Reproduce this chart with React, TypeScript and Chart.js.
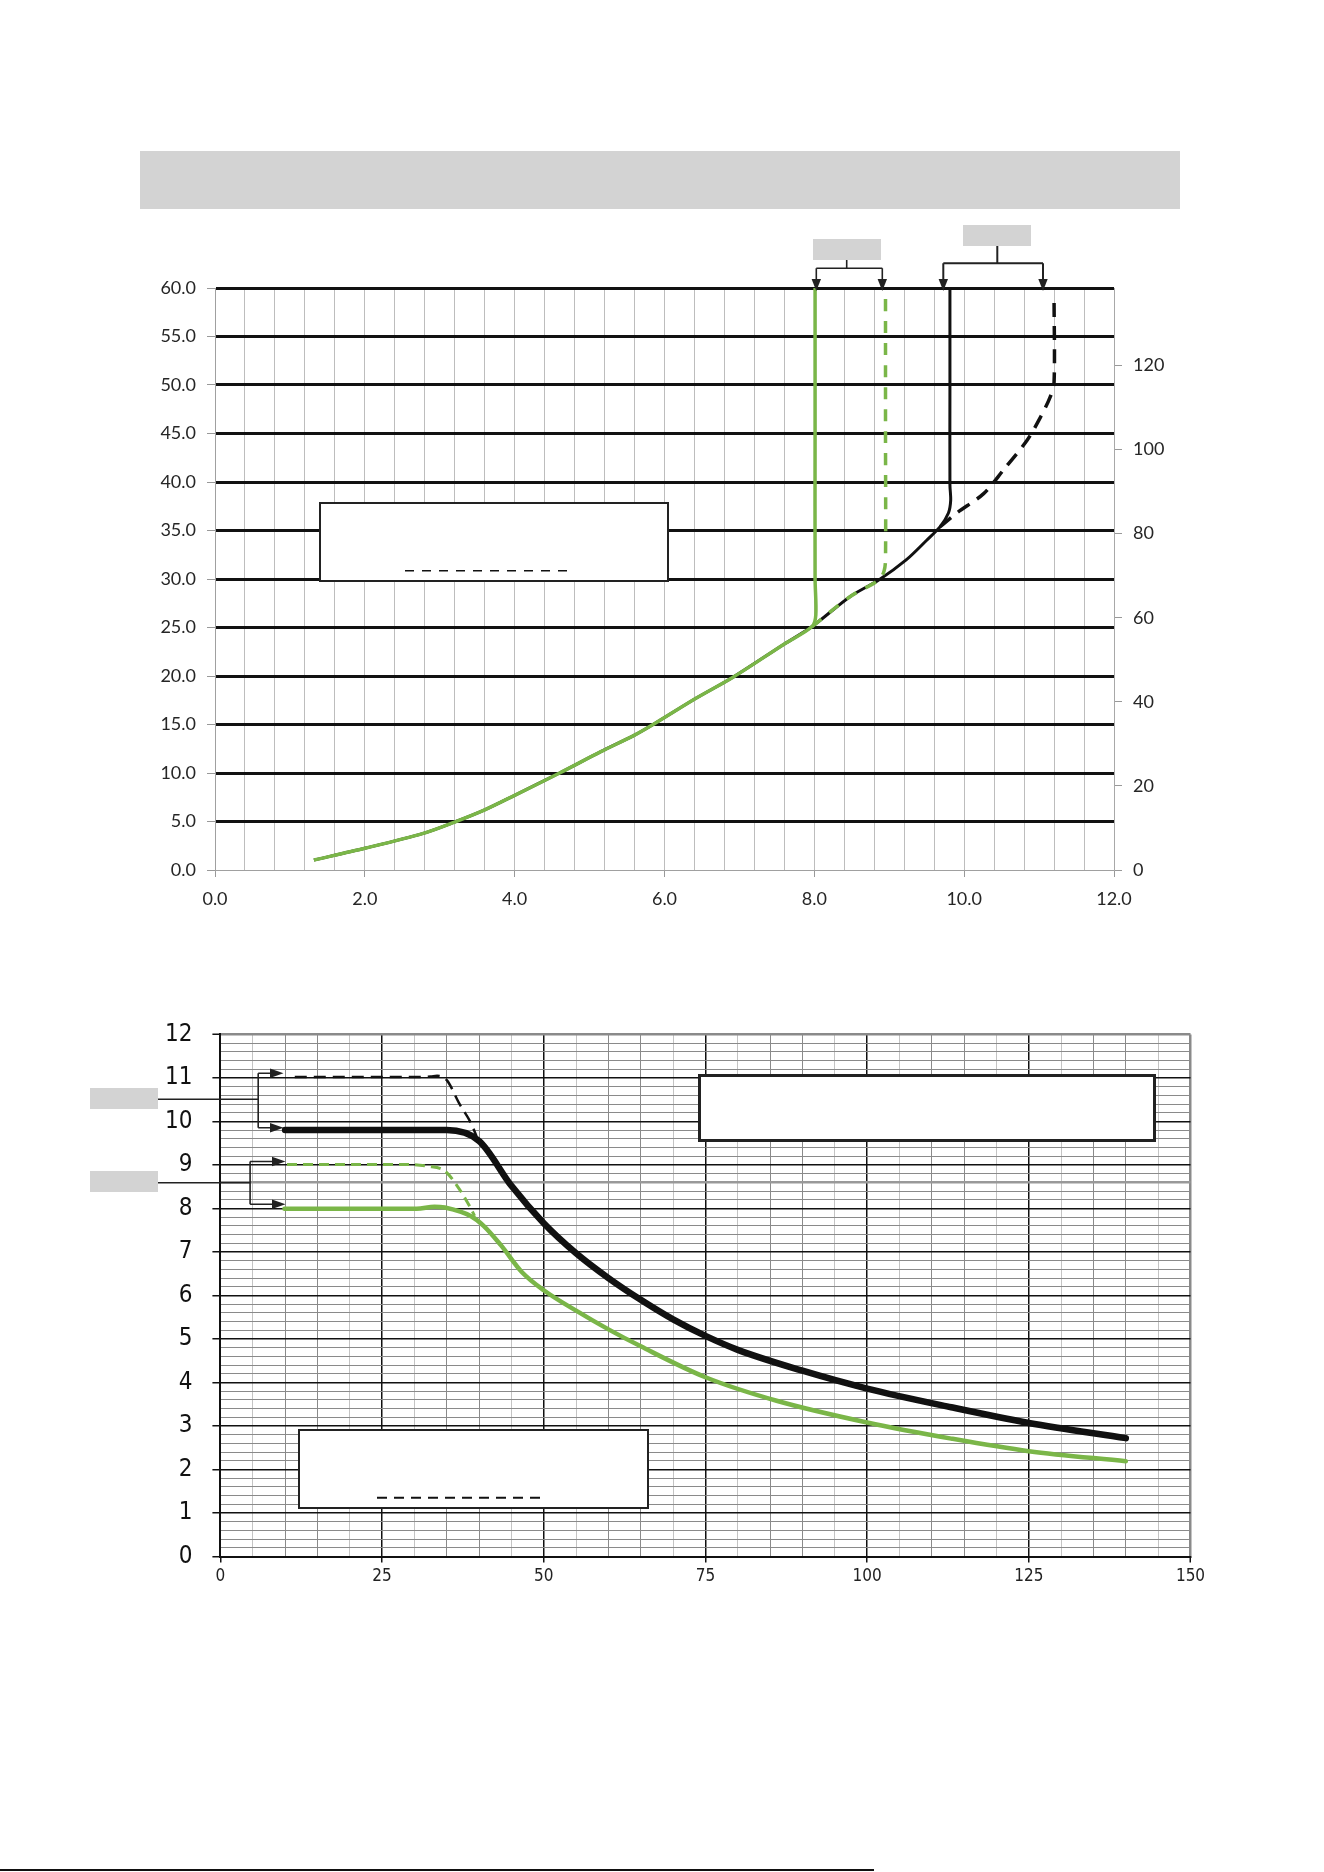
import React, { useEffect, useRef } from "react";
import { Chart, registerables } from "chart.js";

Chart.register(...registerables);

// ---------------- Top chart: pressure (left, psi) / head (right, ft) vs flow ----------------
const TOP_X_MIN = 0;
const TOP_X_MAX = 12;
const TOP_X_GRID_STEP = 0.4;
const TOP_X_LABEL_STEP = 2;
const TOP_Y_MIN = 0;
const TOP_Y_MAX = 60;
const TOP_Y_STEP = 5;
const TOP_Y2_MAX = 138.4; // 60 psi expressed in ft of water
const TOP_Y2_STEP = 20;

const TOP_GREEN_SOLID_X = [1.32, 2.0, 2.78, 3.19, 3.6, 4.0, 4.6, 5.15, 5.6, 5.87, 6.42, 6.92, 7.6, 7.97, 8.02, 8.01, 8.01, 8.01];
const TOP_GREEN_SOLID_Y = [1.03, 2.24, 3.78, 4.92, 6.2, 7.7, 10.0, 12.2, 13.9, 15.1, 17.7, 19.9, 23.3, 25.1, 26.3, 30, 45, 60];

const TOP_GREEN_DASH_X = [7.97, 8.48, 8.86, 8.93, 8.95, 8.95, 8.95];
const TOP_GREEN_DASH_Y = [25.1, 28.2, 29.9, 30.8, 32.0, 45, 59.6];

const TOP_BLACK_SOLID_X = [1.32, 2.0, 2.78, 3.19, 3.6, 4.0, 4.6, 5.15, 5.6, 5.87, 6.42, 6.92, 7.6, 7.97, 8.48, 8.86, 9.23, 9.5, 9.68, 9.79, 9.82, 9.81, 9.81, 9.81];
const TOP_BLACK_SOLID_Y = [1.03, 2.24, 3.78, 4.92, 6.2, 7.7, 10.0, 12.2, 13.9, 15.1, 17.7, 19.9, 23.3, 25.1, 28.2, 29.9, 32.0, 34.0, 35.4, 36.8, 38.1, 39.7, 50, 60];

const TOP_BLACK_DASH_X = [9.68, 9.9, 10.26, 10.52, 10.84, 11.02, 11.15, 11.2, 11.2];
const TOP_BLACK_DASH_Y = [35.4, 36.8, 38.8, 41.2, 44.3, 46.7, 48.8, 50.3, 58.8];

// ---------------- Bottom chart ----------------
const BOT_X_MIN = 0;
const BOT_X_MAX = 150;
const BOT_X_GRID_STEP = 5;
const BOT_X_LABEL_STEP = 25;
const BOT_Y_MIN = 0;
const BOT_Y_MAX = 12;
const BOT_Y_GRID_STEP = 0.2;
const BOT_Y_LABEL_STEP = 1;

const BOT_BLACK_SOLID_X = [10, 35, 40, 45, 50, 55, 60, 65, 70, 75, 80, 90, 100, 113, 125, 140];
const BOT_BLACK_SOLID_Y = [9.8, 9.8, 9.55, 8.52, 7.66, 6.97, 6.4, 5.9, 5.45, 5.07, 4.75, 4.27, 3.86, 3.43, 3.07, 2.72];

const BOT_BLACK_DASH_X = [11.5, 20, 30, 32.5, 33.5, 35, 36.9, 38.75, 39.6];
const BOT_BLACK_DASH_Y = [11.02, 11.02, 11.02, 11.03, 11.05, 10.95, 10.42, 9.96, 9.66];

const BOT_GREEN_SOLID_X = [9.9, 20, 30.35, 33.1, 34.7, 38.75, 40.7, 43.4, 46.6, 50, 55, 60, 65, 75, 86, 100, 113, 125, 140];
const BOT_GREEN_SOLID_Y = [7.99, 7.99, 7.99, 8.04, 8.02, 7.82, 7.6, 7.15, 6.54, 6.12, 5.65, 5.22, 4.83, 4.12, 3.58, 3.08, 2.71, 2.42, 2.19];

const BOT_GREEN_DASH_X = [10.3, 20, 29.3, 32, 34.7, 36.6, 38.5, 39.3];
const BOT_GREEN_DASH_Y = [9.01, 9.01, 9.01, 8.97, 8.86, 8.52, 8.06, 7.83];

// ---------------- styles ----------------
const GREEN = "#7ab648";
const BLACK = "#111111";
const LABEL_GRAY = "#d3d3d3";
const NARROW = "'Liberation Sans Narrow', 'DejaVu Sans Condensed', 'Liberation Sans', Arial, sans-serif";

const xy = (xs: number[], ys: number[]) => xs.map((x, i) => ({ x, y: ys[i] }));
const isMult = (v: any, step: number) => {
  const n = Number(v) / step;
  return Math.abs(n - Math.round(n)) < 1e-6;
};
const near = (a: any, b: number) => Math.abs(Number(a) - b) < 1e-6;
const TRANSPARENT = "rgba(0,0,0,0)";

export default function App() {
  const topRef = useRef<HTMLCanvasElement | null>(null);
  const botRef = useRef<HTMLCanvasElement | null>(null);

  useEffect(() => {
    const line = { showLine: true, pointRadius: 0, fill: false };
    const top = new Chart(topRef.current as HTMLCanvasElement, {
      type: "scatter",
      data: {
        datasets: [
          { ...line, data: xy(TOP_GREEN_SOLID_X, TOP_GREEN_SOLID_Y), borderColor: GREEN, borderWidth: 3.5, tension: 0.3 },
          { ...line, data: xy(TOP_GREEN_DASH_X, TOP_GREEN_DASH_Y), borderColor: GREEN, borderWidth: 3.5, borderDash: [12, 10], tension: 0.3 },
          { ...line, data: xy(TOP_BLACK_DASH_X, TOP_BLACK_DASH_Y), borderColor: BLACK, borderWidth: 3.5, borderDash: [14, 9], tension: 0.3 },
          { ...line, data: xy(TOP_BLACK_SOLID_X, TOP_BLACK_SOLID_Y), borderColor: BLACK, borderWidth: 3, tension: 0.3 },
        ] as any,
      },
      options: {
        responsive: false,
        animation: false,
        devicePixelRatio: 1,
        events: [],
        layout: { padding: { left: 0, right: 0, top: 26, bottom: 0 } },
        plugins: { legend: { display: false }, tooltip: { enabled: false } },
        scales: {
          x: {
            type: "linear",
            position: "bottom",
            min: TOP_X_MIN,
            max: TOP_X_MAX,
            ticks: {
              stepSize: TOP_X_GRID_STEP,
              autoSkip: false,
              maxRotation: 0,
              padding: 11,
              color: "#262626",
              font: { family: "Lato", size: 18 },
              callback: (v: any) => (isMult(v, TOP_X_LABEL_STEP) ? Number(v).toFixed(1) : ""),
            },
            grid: {
              z: -1,
              color: "#bdbdbd",
              lineWidth: 1,
              tickLength: 7,
              tickColor: (c: any) => (c.tick && isMult(c.tick.value, TOP_X_LABEL_STEP) ? "#999" : TRANSPARENT),
            },
            border: { color: "#a0a0a0", width: 1 },
            afterFit: (s: any) => {
              s.height = 60;
            },
          },
          y: {
            type: "linear",
            position: "left",
            min: TOP_Y_MIN,
            max: TOP_Y_MAX,
            ticks: {
              stepSize: TOP_Y_STEP,
              autoSkip: false,
              padding: 11,
              color: "#262626",
              font: { family: "Lato", size: 18 },
              callback: (v: any) => Number(v).toFixed(1),
            },
            grid: {
              color: (c: any) => (c.tick && near(c.tick.value, 0) ? TRANSPARENT : BLACK),
              lineWidth: 3,
              tickLength: 8,
              tickColor: "#999",
              tickWidth: 1,
            },
            border: { color: "#a0a0a0", width: 1 },
            afterFit: (s: any) => {
              s.width = 115;
            },
          },
          y2: {
            type: "linear",
            position: "right",
            min: 0,
            max: TOP_Y2_MAX,
            ticks: {
              stepSize: TOP_Y2_STEP,
              includeBounds: false,
              autoSkip: false,
              padding: 11,
              color: "#262626",
              font: { family: "Lato", size: 18 },
            },
            grid: { drawOnChartArea: false, tickLength: 8, tickColor: "#999", tickWidth: 1 },
            border: { color: "#a8a8a8", width: 1 },
            afterFit: (s: any) => {
              s.width = 86;
            },
          },
        },
      } as any,
    });

    const bot = new Chart(botRef.current as HTMLCanvasElement, {
      type: "scatter",
      data: {
        datasets: [
          { ...line, data: xy(BOT_BLACK_SOLID_X, BOT_BLACK_SOLID_Y), borderColor: BLACK, borderWidth: 6.5, cubicInterpolationMode: "monotone", borderCapStyle: "round" },
          { ...line, data: xy(BOT_BLACK_DASH_X, BOT_BLACK_DASH_Y), borderColor: BLACK, borderWidth: 2.5, borderDash: [12, 7], cubicInterpolationMode: "monotone" },
          { ...line, data: xy(BOT_GREEN_SOLID_X, BOT_GREEN_SOLID_Y), borderColor: GREEN, borderWidth: 4.5, cubicInterpolationMode: "monotone", borderCapStyle: "round" },
          { ...line, data: xy(BOT_GREEN_DASH_X, BOT_GREEN_DASH_Y), borderColor: GREEN, borderWidth: 3, borderDash: [10, 6], cubicInterpolationMode: "monotone" },
        ] as any,
      },
      options: {
        responsive: false,
        animation: false,
        devicePixelRatio: 1,
        events: [],
        layout: { padding: { left: 0, right: 29.5, top: 30.7, bottom: 0 } },
        plugins: { legend: { display: false }, tooltip: { enabled: false } },
        scales: {
          x: {
            type: "linear",
            position: "bottom",
            min: BOT_X_MIN,
            max: BOT_X_MAX,
            ticks: {
              stepSize: BOT_X_GRID_STEP,
              autoSkip: false,
              maxRotation: 0,
              padding: 4,
              color: "#222",
              font: { family: NARROW, size: 17 },
              callback: (v: any) => (isMult(v, BOT_X_LABEL_STEP) ? String(Math.round(Number(v))) : ""),
            },
            grid: {
              z: -1,
              color: (c: any) => {
                const v = c.tick ? Number(c.tick.value) : 0;
                if (near(v, 0)) return TRANSPARENT;
                if (near(v, BOT_X_MAX)) return "#8a8a8a";
                if (isMult(v, BOT_X_LABEL_STEP)) return BLACK;
                const r = Math.round(v) % BOT_X_LABEL_STEP;
                return r === 5 || r === 20 ? "#c4c4c4" : "#8a8a8a";
              },
              lineWidth: (c: any) => {
                const v = c.tick ? Number(c.tick.value) : 0;
                if (near(v, BOT_X_MAX)) return 2.5;
                if (isMult(v, BOT_X_LABEL_STEP)) return 1.5;
                return 1;
              },
              tickLength: 6,
              tickColor: (c: any) => (c.tick && isMult(c.tick.value, BOT_X_LABEL_STEP) ? BLACK : TRANSPARENT),
              tickWidth: 1.5,
            },
            border: { color: BLACK, width: 2 },
            afterFit: (s: any) => {
              s.height = 53.5;
            },
          },
          y: {
            type: "linear",
            position: "left",
            min: BOT_Y_MIN,
            max: BOT_Y_MAX,
            ticks: {
              stepSize: BOT_Y_GRID_STEP,
              autoSkip: false,
              padding: 20,
              color: "#111",
              font: { family: NARROW, size: 24 },
              callback: (v: any) => (isMult(v, BOT_Y_LABEL_STEP) ? String(Math.round(Number(v))) : ""),
            },
            grid: {
              color: (c: any) => {
                const v = c.tick ? Number(c.tick.value) : 0;
                if (near(v, 0)) return TRANSPARENT;
                if (near(v, BOT_Y_MAX)) return "#8a8a8a";
                if (isMult(v, BOT_Y_LABEL_STEP)) return BLACK;
                if (near(v, 8.6)) return "#999";
                return "#8a8a8a";
              },
              lineWidth: (c: any) => {
                const v = c.tick ? Number(c.tick.value) : 0;
                if (near(v, BOT_Y_MAX)) return 2.5;
                if (near(v, 8.6)) return 2.5;
                if (isMult(v, BOT_Y_LABEL_STEP)) return 1.5;
                return 1;
              },
              tickLength: 8,
              tickColor: (c: any) => (c.tick && isMult(c.tick.value, BOT_Y_LABEL_STEP) ? BLACK : TRANSPARENT),
              tickWidth: 1.5,
            },
            border: { color: BLACK, width: 2 },
            afterFit: (s: any) => {
              s.width = 120.4;
            },
          },
        },
      } as any,
    });

    return () => {
      top.destroy();
      bot.destroy();
    };
  }, []);

  const box = (l: number, t: number, w: number, h: number, bw: number) => ({
    position: "absolute" as const,
    left: l,
    top: t,
    width: w,
    height: h,
    boxSizing: "border-box" as const,
    background: "#fff",
    border: `${bw}px solid #222`,
  });
  const gray = (l: number, t: number, w: number, h: number) => ({
    position: "absolute" as const,
    left: l,
    top: t,
    width: w,
    height: h,
    background: LABEL_GRAY,
  });

  return (
    <div
      style={{
        position: "absolute",
        left: 0,
        top: 0,
        width: 1324,
        height: 1872,
        overflow: "hidden",
        background: "#fff",
      }}
    >
      {/* header band */}
      <div style={gray(140, 151, 1040, 58)} />

      <canvas ref={topRef} width={1100} height={668} style={{ position: "absolute", left: 100, top: 262, width: 1100, height: 668 }} />
      <canvas ref={botRef} width={1120} height={610} style={{ position: "absolute", left: 100, top: 1000, width: 1120, height: 610 }} />

      {/* top chart labels / boxes */}
      <div style={gray(813, 239, 68, 21)} />
      <div style={gray(963, 225, 68, 21)} />
      <div style={box(319, 502, 350, 80, 2)} />

      {/* bottom chart labels / boxes */}
      <div style={gray(90, 1088, 68, 21)} />
      <div style={gray(90, 1171, 68, 21)} />
      <div style={box(698, 1074, 458, 68, 3)} />
      <div style={box(298, 1429, 351, 80, 2.5)} />

      <svg width={1324} height={1872} style={{ position: "absolute", left: 0, top: 0, pointerEvents: "none" }}>
        <g stroke="#222" strokeWidth={1.6} fill="none">
          {/* top chart brackets */}
          <path d="M846.7 260 V268.3 M816.3 268.3 H882.3 M816.3 268.3 V281 M882.3 268.3 V281" />
          <path d="M997.3 246 V263.3 M943.3 263.3 H1043 M943.3 263.3 V281 M1043 263.3 V281" strokeWidth={2} />
          {/* bottom chart callouts */}
          <path d="M158 1099.3 H258.2 M258.2 1073.3 V1127.7 M258.2 1073.3 H271 M258.2 1127.7 H271" />
          <path d="M158 1182.7 H250.1 M250.1 1161.5 V1204.3 M250.1 1161.5 H273 M250.1 1204.3 H273" />
        </g>
        <g fill="#222">
          <polygon points="811.6,279 821,279 816.3,291" />
          <polygon points="877.6,279 887,279 882.3,291" />
          <polygon points="938.6,279 948,279 943.3,291" />
          <polygon points="1038.3,279 1047.7,279 1043,291" />
          <polygon points="270,1068.6 270,1078 283.5,1073.3" />
          <polygon points="270,1123 270,1132.4 283.5,1127.7" />
          <polygon points="272,1156.8 272,1166.2 285.5,1161.5" />
          <polygon points="272,1199.6 272,1209 285.5,1204.3" />
        </g>
        {/* dashed sample lines inside the legend boxes */}
        <line x1={405} y1={570.7} x2={575} y2={570.7} stroke="#111" strokeWidth={1.6} strokeDasharray="9 8" />
        <line x1={377} y1={1497.7} x2={546} y2={1497.7} stroke="#111" strokeWidth={2} strokeDasharray="10 7" />
        {/* page bottom rule */}
        <line x1={0} y1={1870} x2={874} y2={1870} stroke="#111" strokeWidth={2} />
      </svg>
    </div>
  );
}
